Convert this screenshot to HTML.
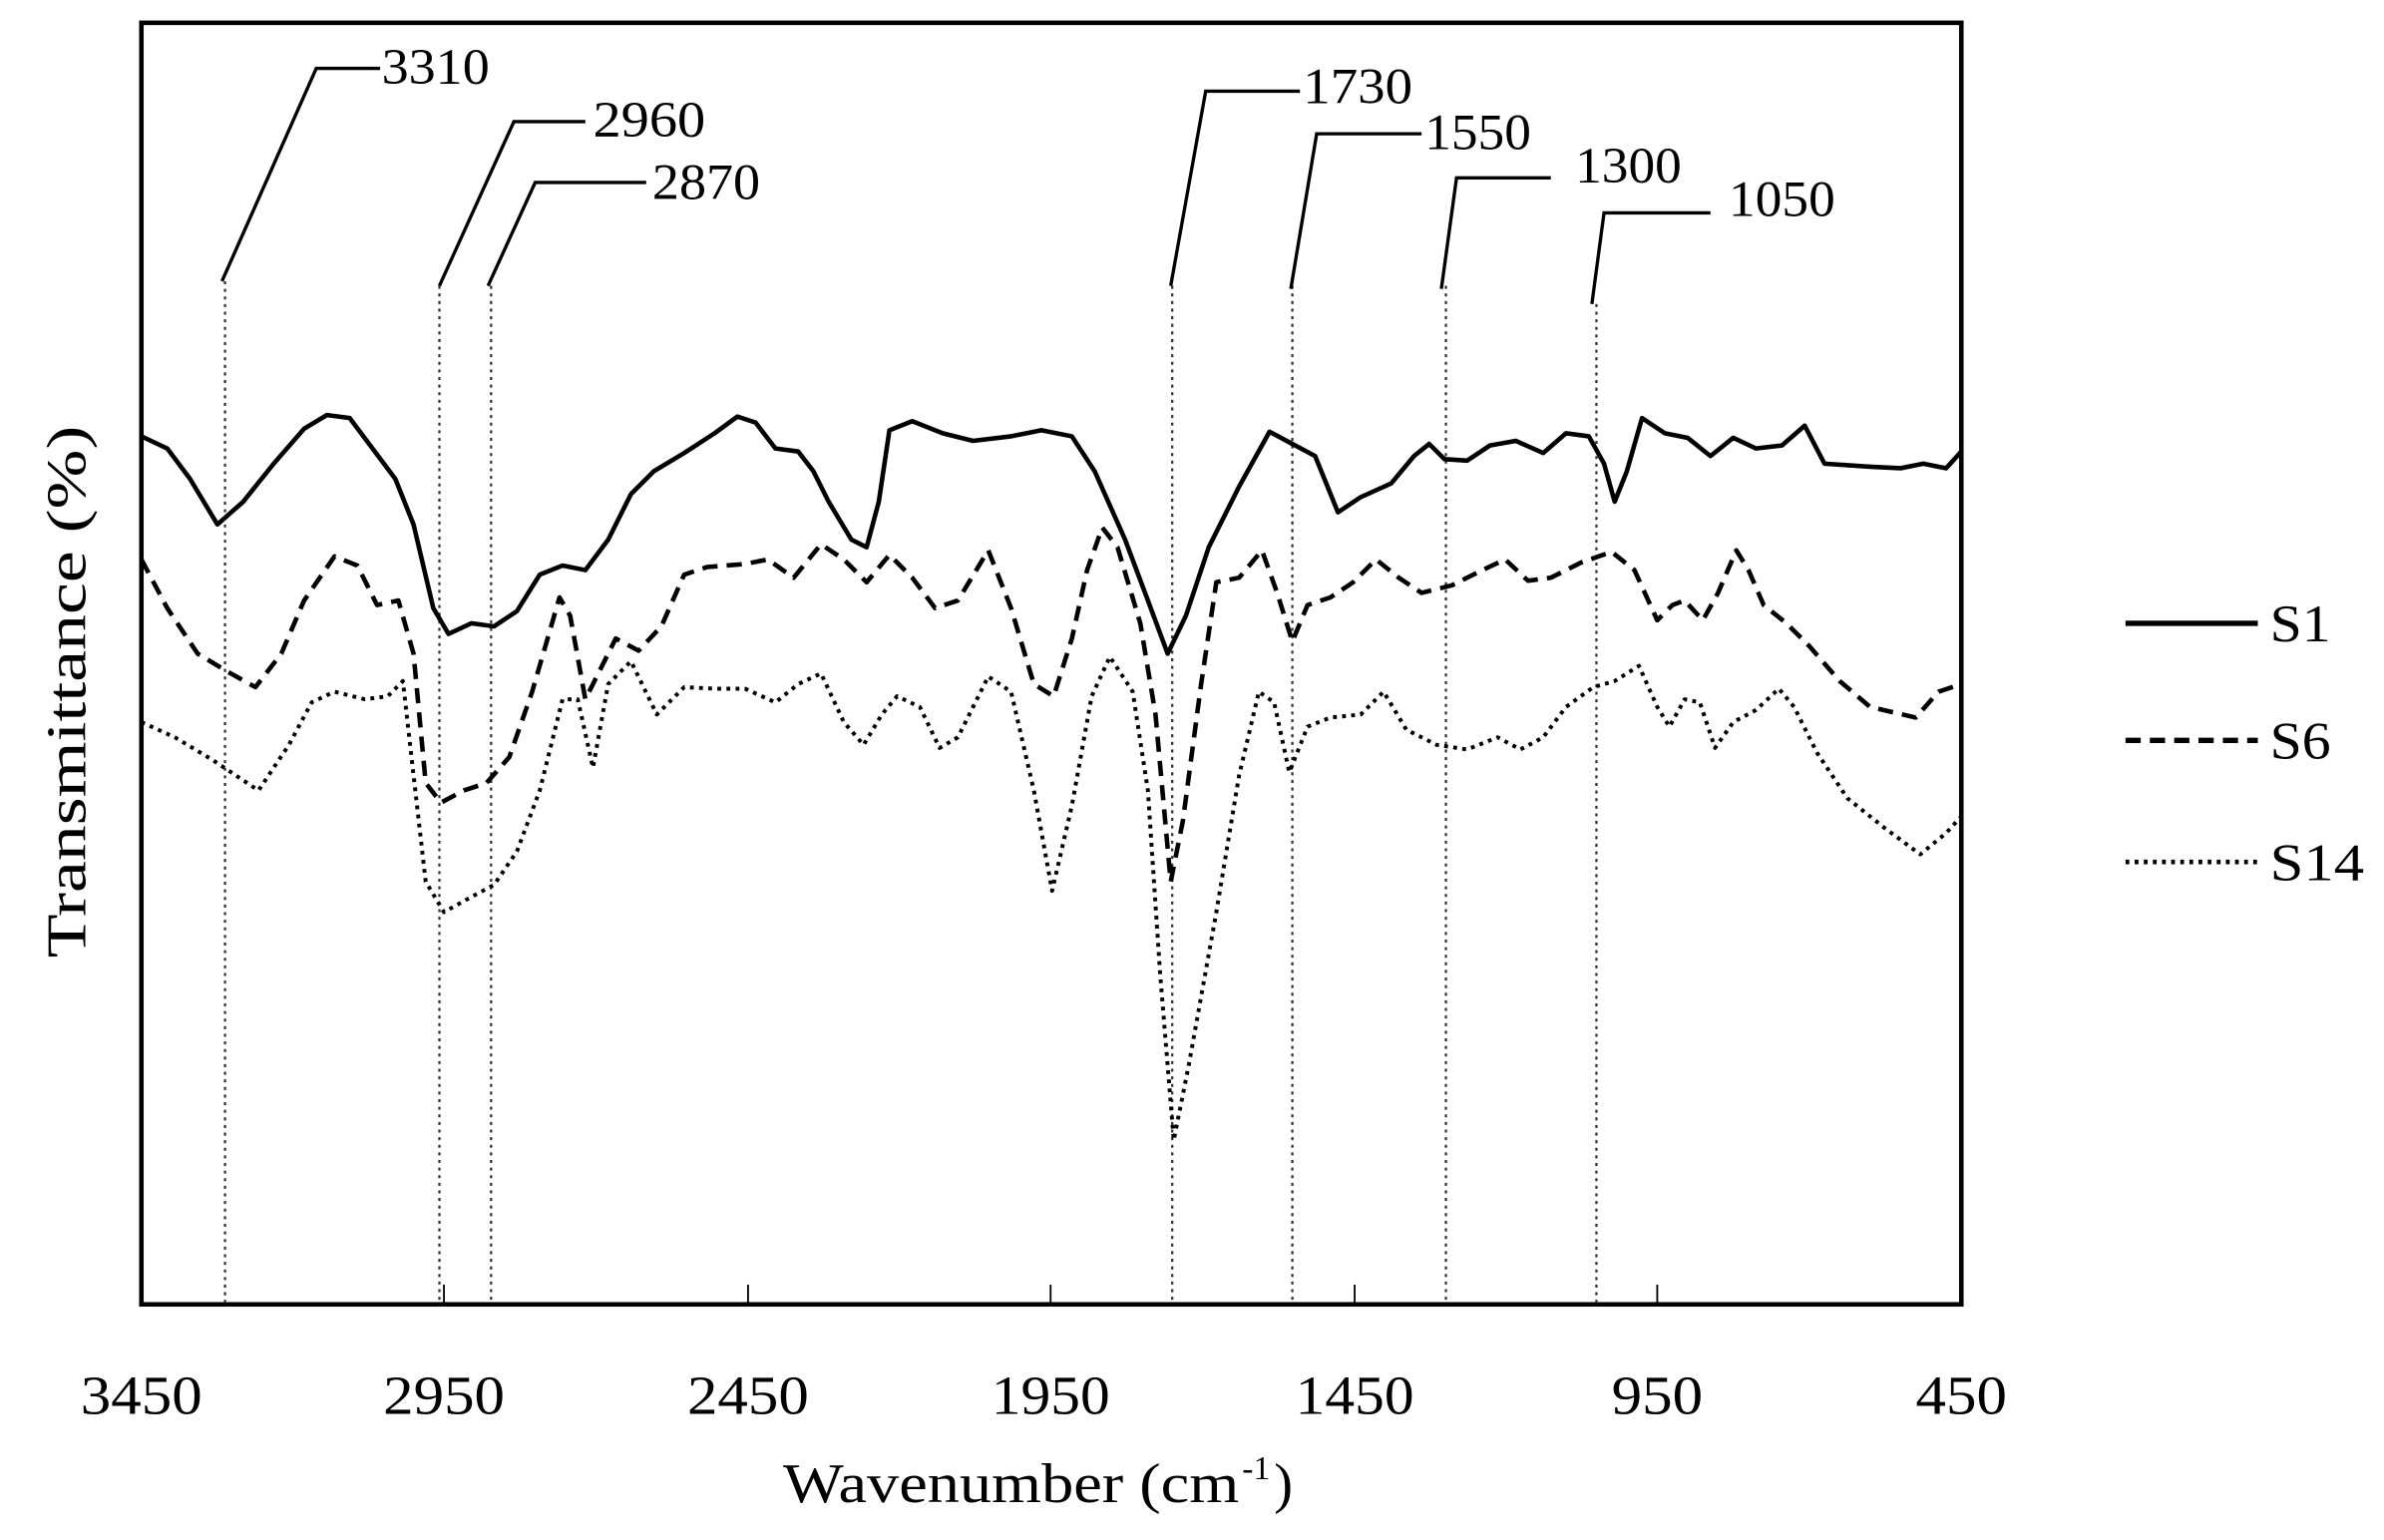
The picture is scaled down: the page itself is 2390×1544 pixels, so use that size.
<!DOCTYPE html>
<html><head><meta charset="utf-8"><style>
html,body{margin:0;padding:0;background:#fff;}
svg{display:block;}
text{font-family:"Liberation Serif",serif;fill:#000;}
</style></head><body>
<svg width="2390" height="1544" viewBox="0 0 1568 1013" preserveAspectRatio="none" xmlns="http://www.w3.org/2000/svg">
<rect x="93" y="15" width="1197" height="843" fill="none" stroke="#000" stroke-width="3"/>
<g stroke="#000" stroke-width="1.2">
<line x1="292" y1="858" x2="292" y2="845"/><line x1="492" y1="858" x2="492" y2="845"/>
<line x1="691" y1="858" x2="691" y2="845"/><line x1="891" y1="858" x2="891" y2="845"/>
<line x1="1090" y1="858" x2="1090" y2="845"/>
</g>
<g stroke="#333" stroke-width="1.5" stroke-dasharray="2 3" fill="none">
<line x1="148" y1="185" x2="148" y2="858"/><line x1="289" y1="188" x2="289" y2="858"/>
<line x1="323" y1="188" x2="323" y2="858"/><line x1="771" y1="188" x2="771" y2="858"/>
<line x1="850" y1="188" x2="850" y2="858"/><line x1="951" y1="188" x2="951" y2="858"/>
<line x1="1050" y1="200" x2="1050" y2="858"/>
</g>
<g stroke="#000" stroke-width="2.2" fill="none">
<polyline points="146,185 208,45 250,45"/>
<polyline points="289,188 338,80 385,80"/>
<polyline points="321,188 352,120 425,120"/>
<polyline points="770,188 793,60 855,60"/>
<polyline points="849,190 866,88 935,88"/>
<polyline points="948,190 958,117 1020,117"/>
<polyline points="1047,200 1055,140 1125,140"/>
</g>
<g font-size="33">
<text x="251" y="55" textLength="71" lengthAdjust="spacingAndGlyphs">3310</text>
<text x="390" y="90" textLength="74" lengthAdjust="spacingAndGlyphs">2960</text>
<text x="429" y="131" textLength="71" lengthAdjust="spacingAndGlyphs">2870</text>
<text x="857" y="68" textLength="72" lengthAdjust="spacingAndGlyphs">1730</text>
<text x="937" y="98" textLength="70" lengthAdjust="spacingAndGlyphs">1550</text>
<text x="1036" y="120" textLength="70" lengthAdjust="spacingAndGlyphs">1300</text>
<text x="1137" y="142" textLength="70" lengthAdjust="spacingAndGlyphs">1050</text>
</g>
<g font-size="36" text-anchor="middle">
<text x="93" y="930" textLength="80" lengthAdjust="spacingAndGlyphs">3450</text>
<text x="292" y="930" textLength="80" lengthAdjust="spacingAndGlyphs">2950</text>
<text x="492" y="930" textLength="80" lengthAdjust="spacingAndGlyphs">2450</text>
<text x="691" y="930" textLength="78" lengthAdjust="spacingAndGlyphs">1950</text>
<text x="891" y="930" textLength="78" lengthAdjust="spacingAndGlyphs">1450</text>
<text x="1090" y="930" textLength="60" lengthAdjust="spacingAndGlyphs">950</text>
<text x="1290" y="930" textLength="60" lengthAdjust="spacingAndGlyphs">450</text>
</g>
<text x="515" y="988" font-size="37" textLength="300" lengthAdjust="spacingAndGlyphs">Wavenumber (cm</text>
<text x="817" y="973" font-size="22">-1</text>
<text x="838" y="988" font-size="37">)</text>
<text transform="translate(56,455) rotate(-90)" font-size="37" text-anchor="middle" textLength="350" lengthAdjust="spacingAndGlyphs">Transmittance (%)</text>
<g fill="none" stroke="#000" stroke-linejoin="round">
<polyline stroke-width="3" points="93,287 110,295 125,315 143,345 160,330 180,305 200,282 215,273 230,275 245,295 260,315 272,345 285,400 295,417 310,410 325,412 340,402 355,378 370,372 385,375 400,355 415,325 430,310 450,298 470,285 485,274 497,278 510,295 525,297 535,310 545,330 560,355 570,360 578,330 585,283 600,277 620,285 640,290 665,287 685,283 705,287 720,310 740,355 755,395 768,430 780,405 795,360 815,320 835,284 850,292 865,300 880,337 895,327 915,318 930,300 940,292 950,302 965,303 980,293 997,290 1015,298 1030,285 1045,287 1055,305 1062,330 1070,310 1080,275 1095,285 1110,288 1125,300 1140,288 1155,295 1172,293 1187,280 1200,305 1230,307 1250,308 1265,305 1280,308 1290,297"/>
<polyline stroke-width="3" stroke-dasharray="10 6" points="93,368 110,400 130,430 150,442 168,452 185,430 200,395 220,366 235,372 248,398 262,395 272,430 280,515 290,528 305,520 320,515 335,498 350,455 368,393 375,405 385,460 395,440 405,420 420,428 435,412 450,378 465,373 490,371 505,368 522,380 540,358 555,368 570,383 585,365 600,380 615,400 630,395 650,362 665,400 680,450 693,458 705,420 715,375 725,347 735,360 750,410 760,470 770,580 778,540 790,450 800,383 815,380 830,362 840,390 850,422 860,398 875,393 890,383 905,368 920,380 935,390 955,385 975,375 990,368 1005,382 1020,380 1040,370 1060,363 1075,375 1090,408 1100,398 1108,395 1120,408 1130,390 1142,362 1150,375 1160,398 1175,410 1190,425 1210,448 1230,465 1260,472 1275,455 1290,450"/>
<polyline stroke-width="2.6" stroke-dasharray="2.5 3.5" points="93,475 115,485 140,500 170,520 190,490 205,462 220,455 240,460 255,458 265,448 272,510 280,580 292,600 310,590 325,582 340,560 355,520 370,460 380,460 390,505 400,450 415,435 432,470 450,452 470,453 490,453 510,462 525,450 540,443 555,475 568,490 580,470 590,458 605,465 618,492 630,485 650,445 665,455 680,520 692,586 705,530 718,458 730,432 745,455 755,520 763,640 772,750 782,700 800,600 815,510 828,455 838,462 848,508 860,478 875,472 895,470 910,455 925,480 945,490 965,493 985,485 1000,493 1015,485 1030,465 1048,452 1062,448 1078,438 1090,465 1098,478 1108,460 1118,462 1128,492 1140,475 1155,467 1170,453 1180,465 1195,495 1215,525 1240,545 1263,562 1280,548 1290,537"/>
<line x1="1398" y1="410" x2="1485" y2="410" stroke-width="3.5"/>
<line x1="1398" y1="487" x2="1485" y2="487" stroke-width="3.5" stroke-dasharray="10 6"/>
<line x1="1398" y1="567" x2="1485" y2="567" stroke-width="3" stroke-dasharray="2.5 3.5"/>
</g>
<g font-size="35">
<text x="1493" y="422" textLength="40" lengthAdjust="spacingAndGlyphs">S1</text>
<text x="1493" y="499" textLength="40" lengthAdjust="spacingAndGlyphs">S6</text>
<text x="1493" y="579" textLength="62" lengthAdjust="spacingAndGlyphs">S14</text>
</g>
</svg>
</body></html>
